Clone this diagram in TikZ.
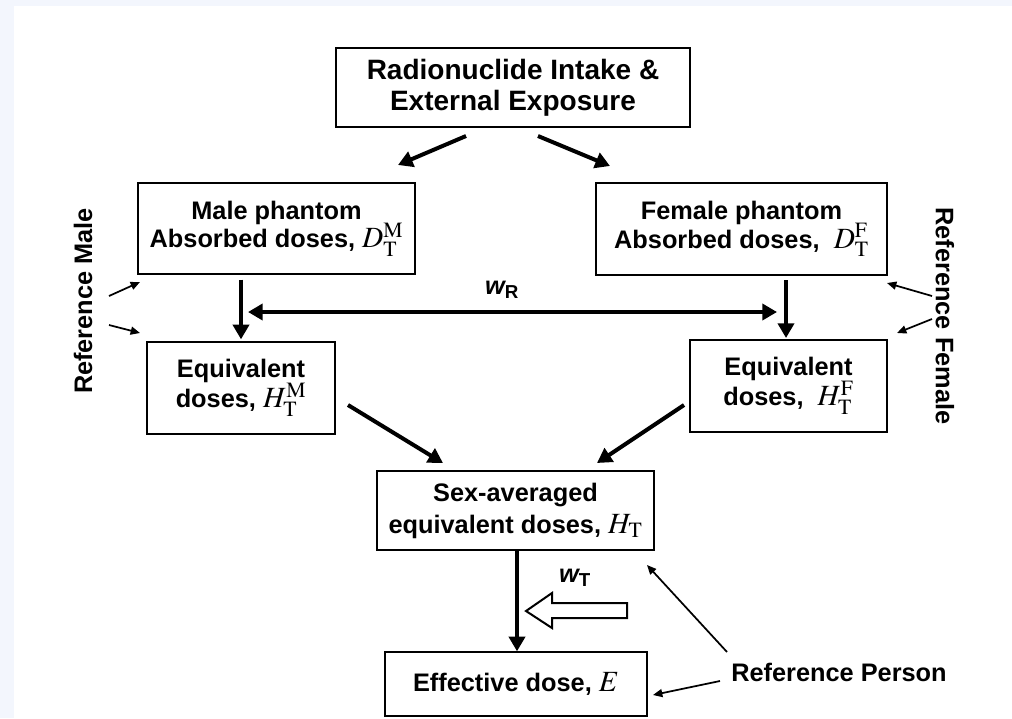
\documentclass[tikz,border=0pt]{standalone}
\usepackage{mathptmx}
\usepackage{fontspec}
\setmainfont{Liberation Sans}
\usetikzlibrary{arrows.meta}
\definecolor{pagetint}{HTML}{F3F6FD}
% dose symbols set a little larger than the surrounding text
\newcommand\dosesym[1]{{\fontsize{22}{21}\selectfont$#1$}}
\tikzset{
  box/.style={draw=black, line width=1pt, fill=white, align=center, inner sep=0pt,
    font=\bfseries\fontsize{19}{22.5}\selectfont},
  label/.style={align=center, inner sep=0pt, font=\bfseries\fontsize{19}{21}\selectfont},
  big/.style={line width=3pt, -{Triangle[length=11pt,width=12pt]}},
  bigboth/.style={line width=3pt, {Triangle[length=11pt,width=12pt]}-{Triangle[length=11pt,width=12pt]}},
  thin/.style={line width=1.3pt, -{Triangle[length=7pt,width=6pt]}},
}
\begin{document}
\lineskiplimit=-30pt
\begin{tikzpicture}[x=0.75pt, y=-0.75pt]
% page and its tinted margin
\fill[pagetint] (0,0) rectangle (1012,718);
\fill[white] (14,6) rectangle (1012,718);
\useasboundingbox (0,0) rectangle (1012,718);

% boxes
\node[box, minimum width=354*0.75pt, minimum height=79*0.75pt,
      font=\bfseries\fontsize{21}{23}\selectfont] (src) at (513,87.5)
  {Radionuclide Intake \&\\External Exposure};
\node[box, minimum width=277*0.75pt, minimum height=91*0.75pt,
      font=\bfseries\fontsize{19}{21.5}\selectfont] (mph) at (276.5,228.5)
  {Male phantom\\Absorbed doses, \dosesym{D^{\mathrm{M}}_{\mathrm{T}}}};
\node[box, minimum width=291*0.75pt, minimum height=92*0.75pt,
      font=\bfseries\fontsize{19}{21.5}\selectfont] (fph) at (741.5,229)
  {Female phantom\\Absorbed doses,~~\dosesym{D^{\mathrm{F}}_{\mathrm{T}}}};
\node[box, minimum width=188*0.75pt, minimum height=92*0.75pt] (meq) at (241,388)
  {Equivalent\\doses, \dosesym{H^{\mathrm{M}}_{\mathrm{T}}}};
\node[box, minimum width=197*0.75pt, minimum height=92*0.75pt] (feq) at (788.5,386)
  {Equivalent\\doses,~~\dosesym{H^{\mathrm{F}}_{\mathrm{T}}}};
\node[box, minimum width=277*0.75pt, minimum height=79*0.75pt,
      font=\bfseries\fontsize{19}{24}\selectfont] (avg) at (515.5,510.5)
  {Sex-averaged\\equivalent doses, \dosesym{H_{\mathrm{T}}}};
\node[box, minimum width=262*0.75pt, minimum height=64*0.75pt] (eff) at (516,684)
  {Effective dose, \dosesym{E}};

% side labels
\node[label, rotate=90] (refm) at (83,301) {Reference Male};
\node[label, rotate=-90] (reff) at (945,316) {Reference Female};
\node[label] (refp) at (839,672) {Reference Person};
\node[label] (wr) at (502,290) {\itshape w\textsubscript{\upshape R}};
\node[label] (wt) at (575,578) {\itshape w\textsubscript{\upshape T}};

% source splits into the two phantoms
\coordinate (srcL) at (466,136);
\coordinate (srcR) at (538,136);
\coordinate (mphIn) at (398,165);
\coordinate (fphIn) at (610,166);
\draw[big] (srcL) -- (mphIn);
\draw[big] (srcR) -- (fphIn);

% absorbed dose to equivalent dose
\draw[big, shorten <=5*0.75pt, shorten >=2*0.75pt] (meq.north |- mph.south) -- (meq.north);
\draw[big, shorten <=5*0.75pt, shorten >=2*0.75pt] (786,275) -- (786,340);
\coordinate (wrL) at (248,312);
\coordinate (wrR) at (777,312);
\draw[bigboth] (wrL) -- (wrR);

% equivalent doses merge into the sex average
\coordinate (meqOut) at (348,405);
\coordinate (feqOut) at (684,405);
\coordinate (avgInL) at (443,463);
\coordinate (avgInR) at (597,463);
\draw[big] (meqOut) -- (avgInL);
\draw[big] (feqOut) -- (avgInR);

% sex average to effective dose
\draw[big] (avg.south -| 517,0) -- (eff.north -| 517,0);

% hollow weighting arrow
\draw[line width=1.5pt, fill=white, line join=miter]
  (526,611) -- (552,593) -- (552,603) -- (627,603) -- (627,618)
  -- (552,618) -- (552,628) -- cycle;

% reference pointers
\coordinate (rm1) at (109,296); \coordinate (rm1e) at (140,282);
\coordinate (rm2) at (109,325); \coordinate (rm2e) at (140,333);
\draw[thin] (rm1) -- (rm1e);
\draw[thin] (rm2) -- (rm2e);
\coordinate (rf1) at (932,296); \coordinate (rf1e) at (887,283);
\coordinate (rf2) at (932,319); \coordinate (rf2e) at (897,333);
\draw[thin] (rf1) -- (rf1e);
\draw[thin] (rf2) -- (rf2e);
\coordinate (rp1) at (727,652); \coordinate (rp1e) at (647,565);
\coordinate (rp2) at (720,681); \coordinate (rp2e) at (653,695);
\draw[thin] (rp1) -- (rp1e);
\draw[thin] (rp2) -- (rp2e);
\end{tikzpicture}
\end{document}
